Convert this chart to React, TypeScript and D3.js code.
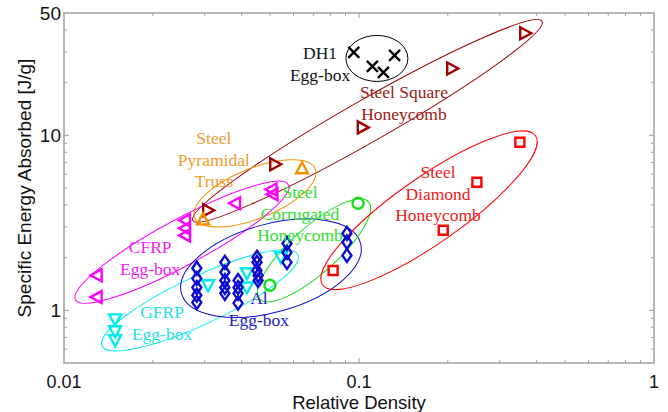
import * as d3 from "d3";
import { useEffect, useRef } from "react";

// [relative density, specific energy absorbed (J/g)]
const dh1Eggbox: [number, number][] = [
  [0.096, 29.8],
  [0.111, 24.8],
  [0.121, 22.9],
  [0.132, 28.6],
];
const steelSquare: [number, number][] = [
  [0.366, 38.3],
  [0.207, 24.1],
  [0.103, 11.1],
  [0.052, 6.83],
  [0.0308, 3.73],
];
const steelPyramidal: [number, number][] = [
  [0.0641, 6.48],
  [0.0296, 3.31],
];
const cfrpEggbox: [number, number][] = [
  [0.0505, 4.9],
  [0.0509, 4.6],
  [0.038, 4.09],
  [0.0257, 3.27],
  [0.0257, 2.94],
  [0.0257, 2.68],
  [0.0129, 1.585],
  [0.0129, 1.19],
];
const gfrpEggbox: [number, number][] = [
  [0.0149, 0.888],
  [0.0149, 0.759],
  [0.0149, 0.674],
  [0.0308, 1.39],
  [0.0417, 1.63],
  [0.0417, 1.35],
  [0.0544, 2.01],
];
const alEggbox: [number, number][] = [
  [0.0282, 1.74],
  [0.0282, 1.52],
  [0.0282, 1.35],
  [0.0282, 1.22],
  [0.0282, 1.11],
  [0.0351, 1.88],
  [0.0351, 1.65],
  [0.0351, 1.48],
  [0.0351, 1.35],
  [0.0351, 1.25],
  [0.0389, 1.48],
  [0.0389, 1.35],
  [0.0389, 1.25],
  [0.0389, 1.1],
  [0.0451, 2.01],
  [0.0451, 1.88],
  [0.0451, 1.69],
  [0.0455, 1.58],
  [0.0455, 1.48],
  [0.057, 2.41],
  [0.057, 2.14],
  [0.057, 1.88],
  [0.091, 2.75],
  [0.091, 2.45],
  [0.091, 2.06],
];
const steelCorrugated: [number, number][] = [
  [0.0993, 4.09],
  [0.0499, 1.39],
];
const steelDiamond: [number, number][] = [
  [0.351, 9.12],
  [0.251, 5.39],
  [0.193, 2.87],
  [0.0817, 1.69],
];

const xTickLabels = [0.01, 0.1, 1];
const yTickLabels = [1, 10, 50];

type Marker = "x" | "tright" | "tup" | "tleft" | "tdown" | "diamond" | "circle" | "square";

interface Group {
  points: [number, number][];
  marker: Marker;
  color: string;
  text: string[];
  textColor: string;
  label: [number, number]; // data position of first text line centre
  ellipse: { c: [number, number]; rx: number; ry: number; angle: number };
}

const groups: Group[] = [
  {
    points: dh1Eggbox,
    marker: "x",
    color: "#000",
    text: ["DH1", "Egg-box"],
    textColor: "#111",
    label: [0.0738, 29.4],
    ellipse: { c: [0.115, 27.5], rx: 31, ry: 23, angle: 0 },
  },
  {
    points: steelSquare,
    marker: "tright",
    color: "#9e0000",
    text: ["Steel Square", "Honeycomb"],
    textColor: "#a01818",
    label: [0.142, 17.6],
    ellipse: { c: [0.1068, 12.1], rx: 201, ry: 21, angle: -29.7 },
  },
  {
    points: steelPyramidal,
    marker: "tup",
    color: "#f59000",
    text: ["Steel", "Pyramidal", "Truss"],
    textColor: "#f39a2a",
    label: [0.0322, 9.61],
    ellipse: { c: [0.0444, 4.66], rx: 65, ry: 25, angle: -22 },
  },
  {
    points: cfrpEggbox,
    marker: "tleft",
    color: "#ff00ff",
    text: ["CFRP", "Egg-box"],
    textColor: "#f01cf0",
    label: [0.0196, 2.29],
    ellipse: { c: [0.0251, 2.45], rx: 121, ry: 23, angle: -28.4 },
  },
  {
    points: gfrpEggbox,
    marker: "tdown",
    color: "#00ecec",
    text: ["GFRP", "Egg-box"],
    textColor: "#22e2e2",
    label: [0.0215, 0.974],
    ellipse: { c: [0.0289, 1.14], rx: 108, ry: 24, angle: -25 },
  },
  {
    points: alEggbox,
    marker: "diamond",
    color: "#0c0cd0",
    text: ["Al", "Egg-box"],
    textColor: "#2323c0",
    label: [0.0458, 1.17],
    ellipse: { c: [0.0503, 1.74], rx: 93, ry: 44, angle: -15.7 },
  },
  {
    points: steelCorrugated,
    marker: "circle",
    color: "#18dd18",
    text: ["Steel", "Corrugated", "Honeycomb"],
    textColor: "#2ee02e",
    label: [0.0631, 4.72],
    ellipse: { c: [0.0704, 2.2], rx: 73, ry: 23, angle: -41.7 },
  },
  {
    points: steelDiamond,
    marker: "square",
    color: "#ff0000",
    text: ["Steel", "Diamond", "Honeycomb"],
    textColor: "#ee1a1a",
    label: [0.1853, 6.15],
    ellipse: { c: [0.1727, 3.73], rx: 130, ry: 33, angle: -35 },
  },
];

const width = 668;
const height = 412;
const margin = { left: 64, right: 14, top: 13, bottom: 49 };

function markerPath(m: Marker): string {
  switch (m) {
    case "x":
      return "M-5.5,-5.5L5.5,5.5M-5.5,5.5L5.5,-5.5";
    case "tright":
      return "M-5,-6L6,0L-5,6Z";
    case "tleft":
      return "M5,-6L-6,0L5,6Z";
    case "tup":
      return "M0,-6L6,5L-6,5Z";
    case "tdown":
      return "M0,6L6,-5L-6,-5Z";
    case "diamond":
      return "M0,-6.5L4.5,0L0,6.5L-4.5,0Z";
    case "square":
      return "M-4.5,-4.5H4.5V4.5H-4.5Z";
    case "circle":
      return d3.arc()({ innerRadius: 0, outerRadius: 5.5, startAngle: 0, endAngle: 2 * Math.PI }) ?? "";
  }
}

export default function App() {
  const ref = useRef<SVGSVGElement>(null);

  useEffect(() => {
    document.body.style.margin = "0";
    const svg = d3.select(ref.current);
    svg.selectAll("*").remove();

    const x = d3
      .scaleLog()
      .domain([0.01, 1])
      .range([margin.left, width - margin.right]);
    const y = d3
      .scaleLog()
      .domain([0.5, 50])
      .range([height - margin.bottom, margin.top]);

    const [x0, x1] = x.range();
    const [y0, y1] = y.range();
    const axisColor = "#a0a0a0";

    // frame + ticks on all four sides, pointing inward
    const axes = svg.append("g").attr("stroke", axisColor).attr("fill", "none");
    axes
      .append("rect")
      .attr("x", x0)
      .attr("y", y1)
      .attr("width", x1 - x0)
      .attr("height", y0 - y1)
      .attr("stroke-width", 1.5);

    const xTicks = x.ticks().filter((t) => t > 0.01 && t < 1);
    const yTicks = y.ticks().filter((t) => t > 0.5 && t < 50);
    const isMajor = (t: number) => Math.abs(Math.log10(t) - Math.round(Math.log10(t))) < 1e-6;

    xTicks.forEach((t) => {
      const len = isMajor(t) ? 5 : 3;
      axes.append("line").attr("x1", x(t)).attr("x2", x(t)).attr("y1", y0).attr("y2", y0 - len);
      axes.append("line").attr("x1", x(t)).attr("x2", x(t)).attr("y1", y1).attr("y2", y1 + len);
    });
    yTicks.forEach((t) => {
      const len = isMajor(t) ? 5 : 3;
      axes.append("line").attr("y1", y(t)).attr("y2", y(t)).attr("x1", x0).attr("x2", x0 + len);
      axes.append("line").attr("y1", y(t)).attr("y2", y(t)).attr("x1", x1).attr("x2", x1 - len);
    });

    const sans = "'Liberation Sans', Arial, sans-serif";
    svg
      .append("g")
      .selectAll("text")
      .data(xTickLabels)
      .join("text")
      .attr("x", (d) => x(d))
      .attr("y", y0 + 25)
      .attr("text-anchor", "middle")
      .attr("font-family", sans)
      .attr("font-size", 18)
      .attr("fill", "#111")
      .text((d) => String(d));
    svg
      .append("g")
      .selectAll("text")
      .data(yTickLabels)
      .join("text")
      .attr("x", x0 - 3)
      .attr("y", (d) => y(d))
      .attr("dy", "0.36em")
      .attr("text-anchor", "end")
      .attr("font-family", sans)
      .attr("font-size", 19)
      .attr("fill", "#111")
      .text((d) => String(d));

    svg
      .append("text")
      .attr("x", (x0 + x1) / 2)
      .attr("y", height - 3)
      .attr("text-anchor", "middle")
      .attr("font-family", sans)
      .attr("font-size", 18.5)
      .attr("fill", "#111")
      .text("Relative Density");
    svg
      .append("text")
      .attr("transform", `translate(31,${(y0 + y1) / 2}) rotate(-90)`)
      .attr("text-anchor", "middle")
      .attr("font-family", sans)
      .attr("font-size", 19)
      .attr("fill", "#111")
      .text("Specific Energy Absorbed [J/g]");

    // grouping ellipses
    svg
      .append("g")
      .selectAll("ellipse")
      .data(groups)
      .join("ellipse")
      .attr(
        "transform",
        (g) => `translate(${x(g.ellipse.c[0])},${y(g.ellipse.c[1])}) rotate(${g.ellipse.angle})`
      )
      .attr("rx", (g) => g.ellipse.rx)
      .attr("ry", (g) => g.ellipse.ry)
      .attr("fill", "none")
      .attr("stroke", (g) => g.color)
      .attr("stroke-width", 1);

    // markers
    groups.forEach((g) => {
      svg
        .append("g")
        .selectAll("path")
        .data(g.points)
        .join("path")
        .attr("transform", (d) => `translate(${x(d[0])},${y(d[1])})`)
        .attr("d", markerPath(g.marker))
        .attr("fill", "none")
        .attr("stroke", g.color)
        .attr("stroke-width", 2.4)
        .attr("stroke-linejoin", "miter");
    });

    // group labels
    groups.forEach((g) => {
      svg
        .append("text")
        .attr("font-family", "'Liberation Serif', 'Times New Roman', serif")
        .attr("font-size", 17.5)
        .attr("fill", g.textColor)
        .attr("text-anchor", "middle")
        .selectAll("tspan")
        .data(g.text)
        .join("tspan")
        .attr("x", x(g.label[0]))
        .attr("y", (_, i) => y(g.label[1]) + i * 21.5)
        .attr("dy", "0.33em")
        .text((d) => d);
    });
  }, []);

  return (
    <div>
      <svg ref={ref} width={width} height={height} style={{ display: "block", background: "#fff" }}></svg>
    </div>
  );
}
